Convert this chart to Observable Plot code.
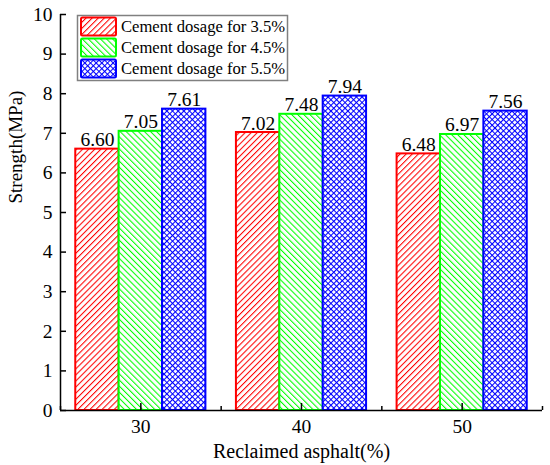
<!DOCTYPE html>
<html>
<head>
<meta charset="utf-8">
<script src="https://cdn.jsdelivr.net/npm/d3@7"></script>
<script src="https://cdn.jsdelivr.net/npm/@observablehq/plot@0.6"></script>
<style>
  html, body { margin: 0; padding: 0; background: #fff; }
  #chart svg { display: block; }
</style>
</head>
<body>
<div id="chart"></div>
<script>
const asphalt = [30, 40, 50];
const seriesNames = ["Cement dosage for 3.5%", "Cement dosage for 4.5%", "Cement dosage for 5.5%"];
const dosage35 = [6.60, 7.02, 6.48];
const dosage45 = [7.05, 7.48, 6.97];
const dosage55 = [7.61, 7.94, 7.56];
const yTicks = [0, 1, 2, 3, 4, 5, 6, 7, 8, 9, 10];
const xTicks = [30, 40, 50];
const xMinorTicks = [25, 35, 45, 55];
const xDomain = [25, 55];
const yDomain = [0, 10];
const xTitle = "Reclaimed asphalt(%)";
const yTitle = "Strength(MPa)";

const colors = ["#ff0000", "#00ff00", "#0000ff"];
const patIds = ["hatchRedFwd", "hatchGreenBack", "hatchBlueCross"];
const seriesValues = [dosage35, dosage45, dosage55];
const barWidth = 2.7;

const tables = seriesValues.map((vals, s) =>
  asphalt.map((a, i) => ({
    series: seriesNames[s],
    x1: a + (s - 1.5) * barWidth,
    x2: a + (s - 0.5) * barWidth,
    xc: a + (s - 1) * barWidth,
    value: vals[i]
  }))
);

const font = "'Liberation Serif', 'Times New Roman', serif";

const barMarks = tables.map((t, s) =>
  Plot.rect(t, {x1: "x1", x2: "x2", y1: 0, y2: "value", fill: `url(#${patIds[s]})`, stroke: colors[s], strokeWidth: 2})
);
const labelMarks = tables.map((t) =>
  Plot.text(t, {x: "xc", y: "value", text: d => d.value.toFixed(2), dy: -3, lineAnchor: "bottom", fontSize: 19.5, fill: "black"})
);

const plot = Plot.plot({
  width: 550,
  height: 465,
  marginLeft: 60,
  marginRight: 8,
  marginTop: 14,
  marginBottom: 55,
  style: {fontFamily: font, background: "white", color: "black"},
  x: {domain: xDomain},
  y: {domain: yDomain},
  marks: [
    ...barMarks,
    ...labelMarks,
    Plot.axisY({ticks: yTicks, tickSize: -6, tickPadding: 14, fontSize: 19.5, strokeWidth: 1.5, label: null}),
    Plot.axisX({ticks: xTicks, tickSize: -7, tickPadding: 16, fontSize: 19.5, strokeWidth: 1.5, label: null}),
    Plot.axisX({ticks: xMinorTicks, tickSize: -4, tickFormat: () => "", strokeWidth: 1.5, label: null}),
    Plot.ruleX([xDomain[0]], {strokeWidth: 1.5}),
    Plot.ruleY([yDomain[0]], {strokeWidth: 1.5}),
    Plot.text([xTitle], {frameAnchor: "bottom", dy: 47, lineAnchor: "bottom", fontSize: 20, fill: "black"}),
    Plot.text([yTitle], {frameAnchor: "left", rotate: -90, dx: -52, dy: -9, lineAnchor: "top", fontSize: 19, fill: "black"})
  ]
});

// patterns: lines rotated by patternTransform
const NS = "http://www.w3.org/2000/svg";
const defs = document.createElementNS(NS, "defs");
plot.appendChild(defs);
function hatch(id, color, size, angle, cross) {
  const p = document.createElementNS(NS, "pattern");
  p.setAttribute("id", id);
  p.setAttribute("patternUnits", "userSpaceOnUse");
  p.setAttribute("width", size);
  p.setAttribute("height", size);
  p.setAttribute("patternTransform", `rotate(${angle})`);
  const bg = document.createElementNS(NS, "rect");
  bg.setAttribute("width", size); bg.setAttribute("height", size);
  bg.setAttribute("fill", "#ffffff"); bg.setAttribute("stroke", "none");
  p.appendChild(bg);
  const l1 = document.createElementNS(NS, "line");
  l1.setAttribute("x1", 0.5); l1.setAttribute("y1", 0); l1.setAttribute("x2", 0.5); l1.setAttribute("y2", size);
  l1.setAttribute("stroke", color); l1.setAttribute("stroke-width", 1.1);
  p.appendChild(l1);
  if (cross) {
    const l2 = document.createElementNS(NS, "line");
    l2.setAttribute("x1", 0); l2.setAttribute("y1", 0.5); l2.setAttribute("x2", size); l2.setAttribute("y2", 0.5);
    l2.setAttribute("stroke", color); l2.setAttribute("stroke-width", 1.1);
    p.appendChild(l2);
  }
  defs.appendChild(p);
}
hatch(patIds[0], colors[0], 4.3, 45, false);
hatch(patIds[1], colors[1], 4.3, -45, false);
hatch(patIds[2], colors[2], 4, 45, true);

// legend inside plot area
const svg = d3.select(plot);
const lg = svg.append("g").attr("font-family", font).attr("text-anchor", "start");
lg.append("rect").attr("x", 77.5).attr("y", 15.5).attr("width", 210).attr("height", 65)
  .attr("fill", "white").attr("stroke", "#808080").attr("stroke-width", 1.5);
seriesNames.forEach((name, s) => {
  const y0 = 17.5 + s * 21;
  lg.append("rect").attr("x", 81).attr("y", y0).attr("width", 35).attr("height", 18)
    .attr("fill", `url(#${patIds[s]})`).attr("stroke", colors[s]).attr("stroke-width", 2).attr("rx", 1.5);
  lg.append("text").attr("x", 121).attr("y", y0 + 9).attr("dy", "0.35em")
    .attr("font-size", 16.6).attr("fill", "black").attr("text-anchor", "start").text(name);
});

document.getElementById("chart").appendChild(plot);
</script>
</body>
</html>
